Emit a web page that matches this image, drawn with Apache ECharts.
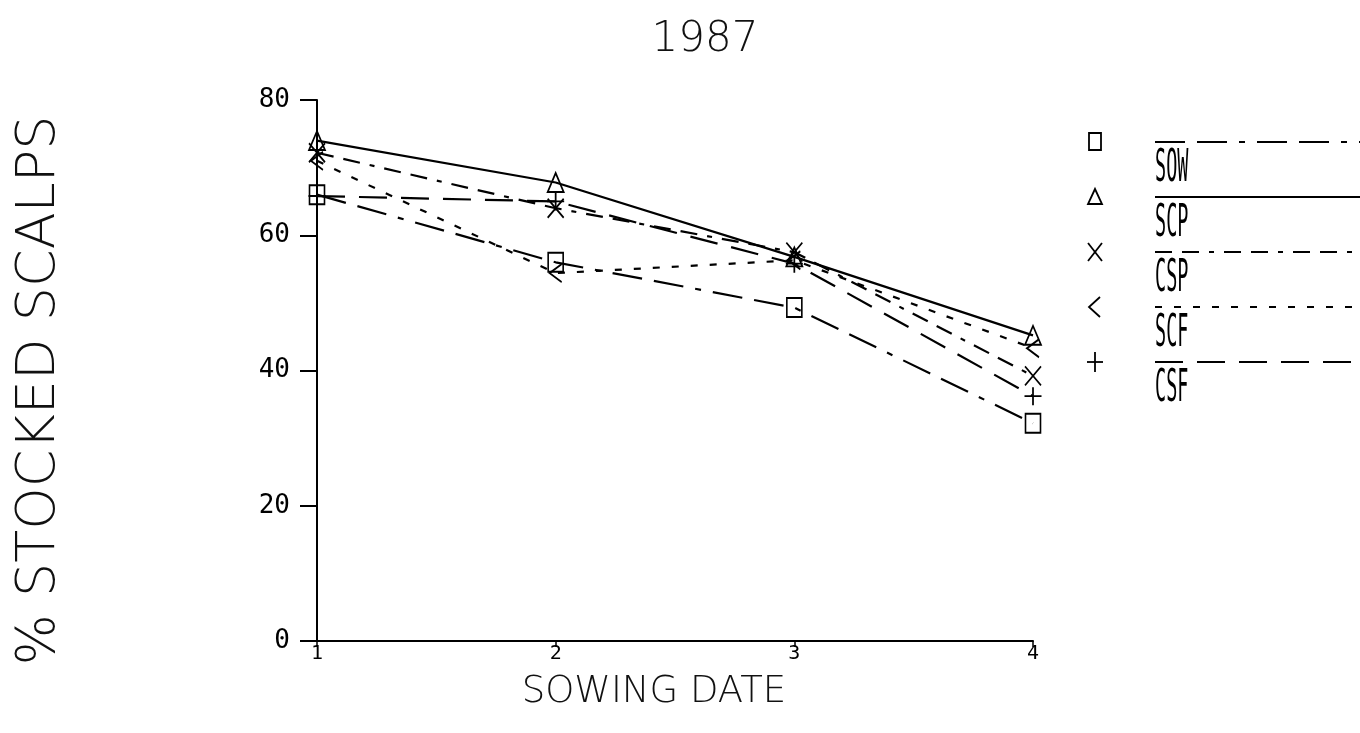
<!DOCTYPE html>
<html>
<head>
<meta charset="utf-8">
<script src="https://cdn.jsdelivr.net/npm/echarts@6/dist/echarts.min.js"></script>
<style>
html,body{margin:0;padding:0;background:#fff;}
#chart{width:1360px;height:733px;}
</style>
</head>
<body>
<div id="chart"></div>
<script>
// ---- data ----
const sowingDates = [1, 2, 3, 4];
const seriesNames = ['SOW', 'SCP', 'CSP', 'SCF', 'CSF'];
const sowValues = [66.0, 56.0, 49.3, 32.2];
const scpValues = [74.0, 67.8, 56.8, 45.2];
const cspValues = [72.2, 64.0, 57.5, 39.2];
const scfValues = [71.0, 54.4, 56.3, 43.3];
const csfValues = [65.8, 65.0, 55.8, 36.2];
const yTicks = [0, 20, 40, 60, 80];
const titleText = '1987';
const yAxisTitle = '% STOCKED SCALPS';
const xAxisTitle = 'SOWING DATE';

// ---- styles ----
const allValues = [sowValues, scpValues, cspValues, scfValues, csfValues];
const dashes = [[30, 12, 30, 12, 6, 12], 'solid', [17, 10, 17, 10, 5, 10], [7, 12], [28, 14]];
const symbols = [
  'rect',
  'triangle',
  'path://M0,0L10,12M10,0L0,12',
  'path://M10,0L0,6L10,12',
  'path://M5,0L5,12M0,6L10,6'
];
const symbolSizes = [[15, 19], [16, 19], [16, 19], [12, 18], [17, 18]];

const series = seriesNames.map((name, i) => ({
  name: name,
  type: 'line',
  data: sowingDates.map((d, j) => [d, allValues[i][j]]),
  symbol: symbols[i],
  symbolSize: symbolSizes[i],
  showAllSymbol: true,
  lineStyle: { color: '#000', width: 2.2, type: dashes[i] },
  itemStyle: { color: 'rgba(0,0,0,0)', borderColor: '#000', borderWidth: 1.8 },
  emphasis: { disabled: true },
  z: 2 + i
}));

// ---- legend drawn with graphic ----
const graphics = [];
const legTop = 142, legStep = 55, markX = 1095, lineX0 = 1155;
seriesNames.forEach((name, i) => {
  const y = legTop + legStep * i;
  const ls = { stroke: '#000', lineWidth: 2, fill: null };
  if (dashes[i] !== 'solid') ls.lineDash = dashes[i];
  graphics.push({ type: 'line', shape: { x1: lineX0, y1: y, x2: 1360, y2: y }, style: ls });
  graphics.push({
    type: 'text', x: lineX0, y: y + 28, scaleX: 0.42,
    style: { text: name, fill: '#000', font: '44px "DejaVu Sans Mono", monospace', textVerticalAlign: 'middle', textAlign: 'left' }
  });
  const st = { stroke: '#000', lineWidth: 1.8, fill: null };
  if (i === 0) graphics.push({ type: 'rect', shape: { x: markX - 6, y: y - 9, width: 12, height: 17 }, style: st });
  if (i === 1) graphics.push({ type: 'polygon', shape: { points: [[markX, y - 8], [markX - 7, y + 7], [markX + 7, y + 7]] }, style: st });
  if (i === 2) {
    graphics.push({ type: 'line', shape: { x1: markX - 7, y1: y - 9, x2: markX + 7, y2: y + 9 }, style: st });
    graphics.push({ type: 'line', shape: { x1: markX + 7, y1: y - 9, x2: markX - 7, y2: y + 9 }, style: st });
  }
  if (i === 3) graphics.push({ type: 'polyline', shape: { points: [[markX + 5, y - 10], [markX - 6, y], [markX + 5, y + 10]] }, style: st });
  if (i === 4) {
    graphics.push({ type: 'line', shape: { x1: markX, y1: y - 10, x2: markX, y2: y + 10 }, style: st });
    graphics.push({ type: 'line', shape: { x1: markX - 8, y1: y, x2: markX + 8, y2: y }, style: st });
  }
});

const chart = echarts.init(document.getElementById('chart'), null, { renderer: 'canvas' });
chart.setOption({
  backgroundColor: '#fff',
  animation: false,
  title: {
    text: titleText,
    left: 700, top: 14, textAlign: 'center',
    textStyle: { fontFamily: 'DejaVu Sans', fontSize: 42, fontWeight: 200, color: '#111' }
  },
  grid: { left: 317, top: 100, width: 716, height: 541, containLabel: false, outerBoundsMode: 'none' },
  xAxis: {
    type: 'value', min: 1, max: 4, interval: 1,
    name: xAxisTitle, nameLocation: 'middle', nameGap: 33,
    nameTextStyle: { fontFamily: 'DejaVu Sans', fontSize: 37, fontWeight: 200, color: '#111', padding: [0, 42, 0, 0], verticalAlign: 'top' },
    axisLine: { show: true, lineStyle: { color: '#000', width: 2 } },
    axisTick: { show: true, length: 6, lineStyle: { color: '#000', width: 1.5 } },
    axisLabel: { margin: 3, fontFamily: 'DejaVu Sans Mono', fontSize: 20, color: '#000' },
    splitLine: { show: false }
  },
  yAxis: {
    type: 'value', min: yTicks[0], max: yTicks[yTicks.length - 1], interval: yTicks[1] - yTicks[0],
    name: yAxisTitle, nameLocation: 'middle', nameGap: 250, nameRotate: 90,
    nameTextStyle: { fontFamily: 'DejaVu Sans', fontSize: 54, fontWeight: 200, color: '#111', padding: [0, 40, 0, 0] },
    axisLine: { show: true, lineStyle: { color: '#000', width: 2 } },
    axisTick: { show: true, length: 17, lineStyle: { color: '#000', width: 2 } },
    axisLabel: { margin: 27, fontFamily: 'DejaVu Sans Mono', fontSize: 26, color: '#000' },
    splitLine: { show: false }
  },
  series: series,
  graphic: graphics
});
</script>
</body>
</html>
